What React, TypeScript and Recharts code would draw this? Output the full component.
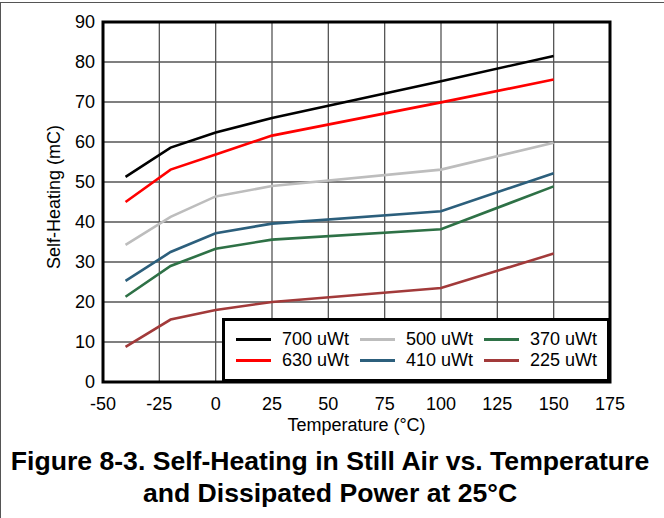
import React from "react";
import {
  LineChart,
  Line,
  XAxis,
  YAxis,
  CartesianGrid,
  ReferenceArea,
  Legend,
} from "recharts";

const temperatures = [-40, -20, 0, 25, 100, 150];
const p700 = [51.3, 58.6, 62.4, 66.0, 75.2, 81.5];
const p630 = [45.0, 53.1, 56.9, 61.6, 69.9, 75.6];
const p500 = [34.3, 41.3, 46.4, 49.0, 53.1, 59.8];
const p410 = [25.3, 32.5, 37.2, 39.6, 42.7, 52.2];
const p370 = [21.3, 29.0, 33.3, 35.6, 38.2, 48.9];
const p225 = [8.8, 15.6, 18.0, 20.0, 23.5, 32.1];

const xTicks = [-50, -25, 0, 25, 50, 75, 100, 125, 150, 175];
const yTicks = [0, 10, 20, 30, 40, 50, 60, 70, 80, 90];

const seriesDefs = [
  { key: "p700", name: "700 uWt", color: "#000000", values: p700 },
  { key: "p630", name: "630 uWt", color: "#ff0000", values: p630 },
  { key: "p500", name: "500 uWt", color: "#bdbdbd", values: p500 },
  { key: "p410", name: "410 uWt", color: "#2c5f7c", values: p410 },
  { key: "p370", name: "370 uWt", color: "#2e7146", values: p370 },
  { key: "p225", name: "225 uWt", color: "#a23a3a", values: p225 },
];

const data = temperatures.map((t, i) => {
  const row: Record<string, number> = { t };
  seriesDefs.forEach((s) => {
    row[s.key] = s.values[i];
  });
  return row;
});

const FONT = '"Liberation Sans", Arial, Helvetica, sans-serif';

const LegendBox = () => (
  <div
    style={{
      boxSizing: "border-box",
      width: 388,
      height: 64,
      border: "3px solid #000",
      background: "#fff",
      paddingLeft: 11,
      paddingTop: 8,
      display: "grid",
      gridTemplateRows: "20.7px 20.7px",
      gridAutoFlow: "column",
      gridAutoColumns: "124px",
      fontFamily: FONT,
      fontSize: 18,
      color: "#000",
    }}
  >
    {seriesDefs.map((s) => (
      <div
        key={s.key}
        style={{ display: "flex", alignItems: "center", height: 20.7, whiteSpace: "nowrap" }}
      >
        <span
          style={{
            display: "inline-block",
            width: 35,
            height: 3,
            background: s.color,
            marginRight: 11,
          }}
        />
        <span style={{ lineHeight: "20.7px" }}>{s.name}</span>
      </div>
    ))}
  </div>
);

export default function App() {
  return (
    <div
      style={{
        position: "relative",
        width: 664,
        height: 518,
        background: "#fff",
        overflow: "hidden",
        fontFamily: FONT,
      }}
    >
      <style>{"body{margin:0;}"}</style>
      <div
        style={{
          position: "absolute",
          left: 0,
          top: 2,
          width: 664,
          height: 520,
          borderTop: "1.5px solid #555",
          borderLeft: "1.5px solid #555",
          boxSizing: "border-box",
        }}
      />
      <LineChart
        width={664}
        height={518}
        data={data}
        margin={{ top: 22, right: 54, left: 43, bottom: 106 }}
        style={{ fontFamily: FONT }}
      >
        <CartesianGrid stroke="#555" strokeWidth={1.3} fill="#fff" />
        <XAxis
          dataKey="t"
          type="number"
          domain={[-50, 175]}
          ticks={xTicks}
          interval={0}
          height={30}
          tickLine={false}
          axisLine={false}
          tickMargin={9}
          tick={{ fill: "#000", fontSize: 18, fontFamily: FONT }}
          allowDataOverflow
        />
        <YAxis
          type="number"
          domain={[0, 90]}
          ticks={yTicks}
          interval={0}
          width={60}
          tickLine={false}
          axisLine={false}
          tick={{ fill: "#000", fontSize: 18, fontFamily: FONT }}
          allowDataOverflow
        />
        {seriesDefs.map((s) => (
          <Line
            key={s.key}
            type="linear"
            dataKey={s.key}
            name={s.name}
            stroke={s.color}
            strokeWidth={2.6}
            dot={false}
            activeDot={false}
            isAnimationActive={false}
          />
        ))}
        <ReferenceArea
          x1={-50}
          x2={175}
          y1={0}
          y2={90}
          fill="none"
          fillOpacity={0}
          stroke="#000"
          strokeWidth={3}
          ifOverflow="visible"
        />
        <Legend
          layout="horizontal"
          verticalAlign="middle"
          align="center"
          content={() => <LegendBox />}
          wrapperStyle={{ left: 222, top: 318, width: 388, height: 64, margin: 0 }}
        />
        <text
          x={59.5}
          y={197}
          transform="rotate(-90 59.5 197)"
          textAnchor="middle"
          fontSize={18}
          fontFamily={FONT}
          fill="#000"
        >
          Self-Heating (mC)
        </text>
        <text
          x={356.5}
          y={431}
          textAnchor="middle"
          fontSize={18}
          fontFamily={FONT}
          fill="#000"
        >
          Temperature (°C)
        </text>
        <text
          x={330}
          y={470}
          textAnchor="middle"
          fontSize={26.6}
          fontWeight="bold"
          fontFamily={FONT}
          fill="#000"
        >
          Figure 8-3. Self-Heating in Still Air vs. Temperature
        </text>
        <text
          x={330}
          y={502}
          textAnchor="middle"
          fontSize={26.6}
          fontWeight="bold"
          fontFamily={FONT}
          fill="#000"
        >
          and Dissipated Power at 25°C
        </text>
      </LineChart>
    </div>
  );
}
